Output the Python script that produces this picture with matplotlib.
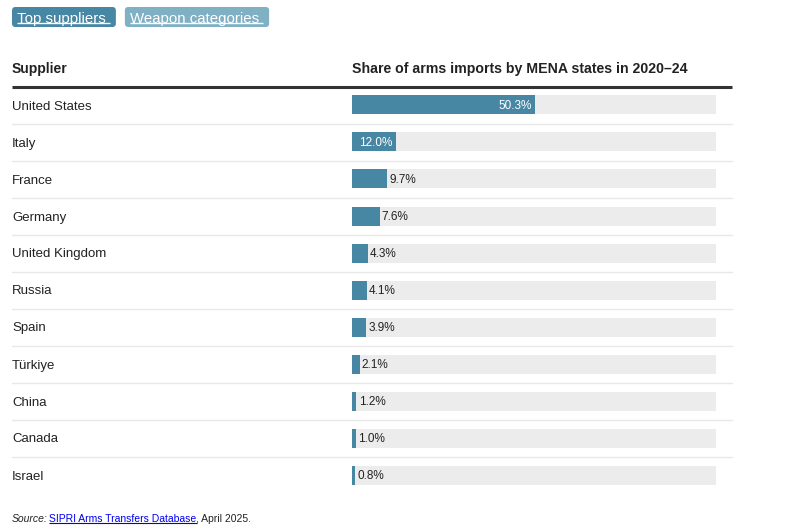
import matplotlib.pyplot as plt
from matplotlib.patches import FancyBboxPatch

suppliers = ["United States", "Italy", "France", "Germany", "United Kingdom",
             "Russia", "Spain", "Türkiye", "China", "Canada", "Israel"]
shares = [50.3, 12.0, 9.7, 7.6, 4.3, 4.1, 3.9, 2.1, 1.2, 1.0, 0.8]
buttons = ["Top suppliers ", "Weapon categories "]

W, H = 807, 530
FONT = "Liberation Sans"
BAR = "#4887a4"

fig = plt.figure(figsize=(W / 100, H / 100), dpi=100)
ax = fig.add_axes([0, 0, 1, 1])
ax.set_xlim(0, W)
ax.set_ylim(H, 0)
ax.axis("off")


def px_box(x0, y0, w, h):
    # pixel box (top-left origin) -> figure fraction
    return [x0 / W, 1 - (y0 + h) / H, w / W, h / H]


def underline(t, color, off=2, lw=1):
    fig.canvas.draw()
    bb = t.get_window_extent().transformed(ax.transData.inverted())
    y = max(bb.y0, bb.y1)
    ax.plot([bb.x0, bb.x1], [y - off, y - off], color=color, lw=lw,
            solid_capstyle="butt")
    return bb


# toggle buttons
bx0 = 12
for i, (label, fc) in enumerate(zip(buttons, [BAR, "#7fb0c4"])):
    t = ax.text(bx0 + 5, 18.5, label, fontsize=10.8, family=FONT, color="white",
                va="center", ha="left", zorder=3)
    fig.canvas.draw()
    bb = t.get_window_extent().transformed(ax.transData.inverted())
    w = bb.x1 - bx0 + 6
    ax.add_patch(FancyBboxPatch((bx0, 7), w, 20, boxstyle="round,pad=0,rounding_size=3.5",
                                fc=fc, ec="none", zorder=1))
    underline(t, "white", off=2.5)
    bx0 = bx0 + w + 9

# header
ax.text(12, 69.5, "Supplier", fontsize=10, family=FONT, weight="bold",
        color="#222222", va="center")
ax.text(352, 69.5, "Share of arms imports by MENA states in 2020\u201324", fontsize=10.2,
        family=FONT, weight="bold", color="#222222", va="center")
ax.plot([12, 732], [86.5, 86.5], color="#333333", lw=2.2, solid_capstyle="butt")

row_h = 37
top = 86.5
for i, name in enumerate(suppliers):
    yc = top + row_h * (i + 0.5)
    ax.text(12, yc + 1.5, name, fontsize=9.5, family=FONT, color="#222222", va="center")
    if i < len(suppliers) - 1:
        ax.plot([12, 732], [top + row_h * (i + 1)] * 2, color="#e8e8e8", lw=1)

# bars
bx = fig.add_axes(px_box(352, top, 364, row_h * len(suppliers)))
bx.set_xlim(0, 100)
bx.set_ylim(len(suppliers) - 0.5, -0.5)
bx.axis("off")
pos = list(range(len(suppliers)))
bx.barh(pos, [100] * len(pos), height=19 / row_h, color="#ececec", lw=0)
bx.barh(pos, shares, height=19 / row_h, color=BAR, lw=0)
dy = 1.0 / row_h
for p, v in zip(pos, shares):
    if v >= 10:
        bx.text(v - 0.8, p + dy, f"{v:.1f}%", fontsize=8.5, family=FONT, color="white",
                ha="right", va="center")
    else:
        bx.text(v + 0.6, p + dy, f"{v:.1f}%", fontsize=8.5, family=FONT, color="#222222",
                ha="left", va="center")

# source line
fig.canvas.draw()
inv = ax.transData.inverted()
t1 = ax.text(12, 519, "Source:", fontsize=7.5, family=FONT, style="italic",
             color="#222222", va="center")
fig.canvas.draw()
x = t1.get_window_extent().transformed(inv).x1 + 1.5
t2 = ax.text(x, 519, "SIPRI Arms Transfers Database", fontsize=7.5, family=FONT,
             color="#0000ee", va="center")
bb = underline(t2, "#0000ee", off=1, lw=0.8)
ax.text(bb.x1, 519, ", April 2025.", fontsize=7.5, family=FONT, color="#222222",
        va="center")

fig.savefig("out.png", dpi=100)
